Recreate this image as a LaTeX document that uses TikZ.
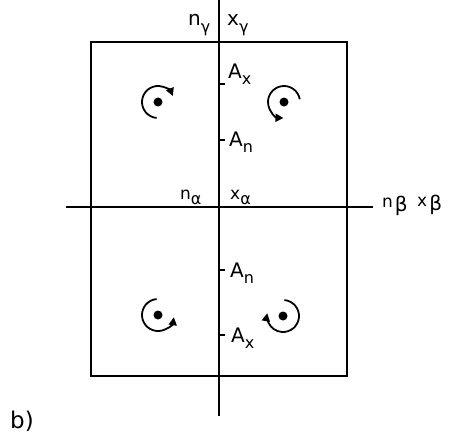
\documentclass[tikz,border=0pt]{standalone}
\usepackage{fontspec}
\setmainfont{DejaVu Sans}
\usetikzlibrary{arrows.meta,positioning,calc}
\newcommand{\lowsub}[1]{\raisebox{-0.55ex}{\fontsize{16}{16}\selectfont #1}}
\newcommand{\bigsub}[1]{\kern2pt\raisebox{-0.5ex}{\fontsize{20}{20}\selectfont #1}}

\begin{document}
\begin{tikzpicture}[x=1pt, y=-1pt,
  axis/.style={line width=2.2pt},
  lbl/.style={font=\fontsize{20}{20}\selectfont, inner sep=0pt, anchor=base west},
  small/.style={font=\fontsize{17}{17}\selectfont, inner sep=0pt, anchor=base west},
  spot/.style={circle, fill, inner sep=0pt, minimum size=9pt},
  spin/.style={line width=1.8pt, -{Triangle[length=8pt,width=8pt]}}
]
\useasboundingbox (0,0) rectangle (457,436);
% frame and axes
\draw[axis] (91,42) rectangle (347,376);
\coordinate (top) at (219,0);
\coordinate (bot) at (219,416);
\coordinate (lft) at (66,207);
\coordinate (rgt) at (373,207);
\draw[axis] (top) -- (bot);
\draw[axis] (lft) -- (rgt);
% axis labels
\node[lbl] (ng) at (188,26) {n\lowsub{γ}};
\node[lbl] (xg) at (227,26) {x\lowsub{γ}};
\node[small] (na) at (180,199) {n\lowsub{α}};
\node[small] (xa) at (230,199) {x\lowsub{α}};
\node[small] (nb) at (382,207) {n\bigsub{β}};
\node[small] (xb) at (417,206) {x\bigsub{β}};
% ticks on the vertical axis
\coordinate (t1) at (219,84);
\coordinate (t2) at (219,140);
\coordinate (t3) at (219,270);
\coordinate (t4) at (219,335);
\foreach \t in {t1,t2,t3,t4}
  \draw[axis] (\t) -- ++(6,0);
\node[lbl] (ax1) at (228,78) {A\lowsub{x}};
\node[lbl] (an1) at (229,146) {A\lowsub{n}};
\node[lbl] (an2) at (230,277) {A\lowsub{n}};
\node[lbl] (ax2) at (231,342) {A\lowsub{x}};
% rotation marks
\node[spot] (ul) at (158,102) {};
\node[spot] (ur) at (284,102) {};
\node[spot] (ll) at (158,315) {};
\node[spot] (lr) at (283,316) {};
\draw[spin] ($(ul)+(95:16)$) arc[start angle=95, end angle=338, radius=16];
\draw[spin] ($(ur)+(-10:16)$) arc[start angle=-10, end angle=-268, radius=16];
\draw[spin] ($(ll)+(-95:16)$) arc[start angle=-95, end angle=-352, radius=16];
\draw[spin] ($(lr)+(-85:16)$) arc[start angle=-85, end angle=190, radius=16];
\node[font=\fontsize{23}{23}\selectfont, inner sep=0pt, anchor=base west] (cap) at (10,428) {b)};
\end{tikzpicture}
\end{document}
